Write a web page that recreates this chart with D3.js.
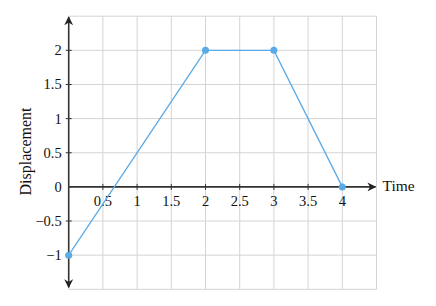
<!DOCTYPE html>
<html>
<head>
<script src="https://d3js.org/d3.v7.min.js"></script>
<style>
body { margin: 0; background: #fff; }
svg text { font-family: 'Liberation Serif', 'DejaVu Serif', serif; }
</style>
</head>
<body>
<svg id="chart" width="436" height="306"></svg>
<script>
// data
var times = [0, 2, 3, 4];
var displacement = [-1, 2, 2, 0];
var xTicks = [0.5, 1, 1.5, 2, 2.5, 3, 3.5, 4];
var yTicks = [-1, -0.5, 0, 0.5, 1, 1.5, 2];
var xGrid = [0, 0.5, 1, 1.5, 2, 2.5, 3, 3.5, 4, 4.5];
var yGrid = [-1.5, -1, -0.5, 0, 0.5, 1, 1.5, 2, 2.5];

var x = d3.scaleLinear().domain([0, 4.5]).range([68.7, 376.5]);
var y = d3.scaleLinear().domain([-1.5, 2.5]).range([289.3, 16.2]);

var svg = d3.select("#chart");

var fmt = function (v) { return v < 0 ? "\u2212" + Math.abs(v) : String(v); };

// grid
var grid = svg.append("g").attr("stroke", "#d4d4d4").attr("stroke-width", 1);
grid.selectAll("line.vx").data(xGrid).join("line")
  .attr("x1", d => x(d)).attr("x2", d => x(d))
  .attr("y1", y(2.5)).attr("y2", y(-1.5));
grid.selectAll("line.hy").data(yGrid).join("line")
  .attr("x1", x(0)).attr("x2", x(4.5))
  .attr("y1", d => y(d)).attr("y2", d => y(d));

// arrow marker
svg.append("defs").append("marker")
  .attr("id", "arr")
  .attr("viewBox", "0 0 10 10")
  .attr("refX", 9).attr("refY", 5)
  .attr("markerWidth", 9).attr("markerHeight", 9)
  .attr("markerUnits", "userSpaceOnUse")
  .attr("orient", "auto")
  .append("path")
  .attr("d", "M0,0 L10,5 L0,10 L3,5 Z")
  .attr("fill", "#222");

// axes lines
svg.append("line")
  .attr("x1", x(0)).attr("x2", x(4.5) - 1)
  .attr("y1", y(0)).attr("y2", y(0))
  .attr("stroke", "#333").attr("stroke-width", 1.6)
  .attr("marker-end", "url(#arr)");
svg.append("line")
  .attr("x1", x(0)).attr("x2", x(0))
  .attr("y1", y(0)).attr("y2", y(2.5) + 1)
  .attr("stroke", "#333").attr("stroke-width", 1.6)
  .attr("marker-end", "url(#arr)");
svg.append("line")
  .attr("x1", x(0)).attr("x2", x(0))
  .attr("y1", y(0)).attr("y2", y(-1.5) - 2)
  .attr("stroke", "#333").attr("stroke-width", 1.6)
  .attr("marker-end", "url(#arr)");

// ticks
svg.append("g").selectAll("line").data(xTicks).join("line")
  .attr("x1", d => x(d)).attr("x2", d => x(d))
  .attr("y1", y(0) - 3).attr("y2", y(0) + 3)
  .attr("stroke", "#333").attr("stroke-width", 1);
svg.append("g").selectAll("line").data(yTicks.filter(d => d !== 0)).join("line")
  .attr("x1", x(0) - 3).attr("x2", x(0) + 3)
  .attr("y1", d => y(d)).attr("y2", d => y(d))
  .attr("stroke", "#333").attr("stroke-width", 1);

// tick labels
svg.append("g").selectAll("text").data(xTicks).join("text")
  .attr("x", d => x(d)).attr("y", y(0) + 19)
  .attr("text-anchor", "middle")
  .attr("font-size", 14.5).attr("fill", "#111")
  .text(fmt);
svg.append("g").selectAll("text").data(yTicks).join("text")
  .attr("x", x(0) - 7).attr("y", d => y(d) + 5)
  .attr("text-anchor", "end")
  .attr("font-size", 14.5).attr("fill", "#111")
  .text(fmt);

// axis titles
svg.append("text")
  .attr("x", 382.5).attr("y", y(0) + 4.5)
  .attr("font-size", 15.5).attr("fill", "#111")
  .text("Time");
svg.append("text")
  .attr("transform", "translate(30.5,151.5) rotate(-90)")
  .attr("text-anchor", "middle")
  .attr("font-size", 16).attr("fill", "#111")
  .text("Displacement");

// series
var pts = times.map((t, i) => ({ t: t, d: displacement[i] }));
var line = d3.line().x(p => x(p.t)).y(p => y(p.d));
svg.append("path")
  .attr("d", line(pts))
  .attr("fill", "none")
  .attr("stroke", "#5aaae6")
  .attr("stroke-width", 1.3);
svg.append("g").selectAll("circle").data(pts).join("circle")
  .attr("cx", p => x(p.t)).attr("cy", p => y(p.d))
  .attr("r", 3.5)
  .attr("fill", "#5aaae6");
</script>
</body>
</html>
